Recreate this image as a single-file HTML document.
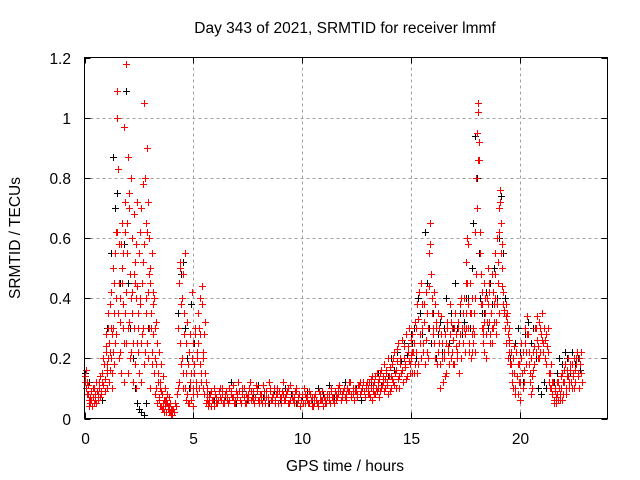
<!DOCTYPE html>
<html><head><meta charset="utf-8">
<style>
html,body{margin:0;padding:0;background:#fff;}
svg{display:block;font-family:"Liberation Sans",sans-serif;}
</style></head>
<body>
<svg id="chart" width="640" height="480" viewBox="0 0 640 480">
<text x="345" y="33" font-size="15.5" text-anchor="middle" fill="#000">Day 343 of 2021, SRMTID for receiver lmmf</text>
<text x="345" y="471" font-size="15.5" text-anchor="middle" fill="#000">GPS time / hours</text>
<text transform="translate(20,238) rotate(-90)" font-size="15.5" text-anchor="middle" fill="#000">SRMTID / TECUs</text>
<g id="grid"></g>
<g id="ticks"></g>
<g id="black"></g>
<g id="red"></g>
<rect x="84.5" y="57.5" width="523" height="361" fill="none" stroke="#000" stroke-width="1"/>
</svg>
<script>
const xTicks = [0,5,10,15,20];
const xTickLabels = ["0","5","10","15","20"];
const yTicks = [0,0.2,0.4,0.6,0.8,1,1.2];
const yTickLabels = ["0","0.2","0.4","0.6","0.8","1","1.2"];
// red series segments: start time, step (hours), values
const redStarts = [0,0.02,1.0,1.025,1.0125,4.0,4.3,4.32,5.0,5.02,5.7,5.75,5.72,13.0,13.025,15.0,15.025,17.5,17.52,18.3,18.32,19.5,19.525];
const redSteps  = [0.05,0.05,0.05,0.05,0.05,0.05,0.04,0.04,0.04,0.04,0.1,0.1,0.1,0.05,0.05,0.05,0.05,0.04,0.04,0.04,0.04,0.05,0.05];
const redValues = [
[.14,.10,.12,.08,.06,.05,.09,.04,.07,.10,.06,.05,.08,.12,.07,.09,.15,.11,.18,.13,.24],
[.12,.16,.08,.11,.04,.07,.06,.10,.05,.08,.12,.09,.06,.10,.14,.08,.12,.20,.09,.22,.16],
[.28,.18,.35,.22,.42,.15,.30,.45,.25,.62,1.09,.83,.58,.40,.65,.30,.97,.72,1.18,.55,.87,.70,.48,.80,.35,.68,.52,.40,.72,.30,.55,.62,.25,.45,.78,1.05,.65,.90,.42,.60,.50,.35,.55,.28,.40,.20,.32,.15,.22,.12,.18,.08,.14,.06,.10,.05,.08,.04,.07,.03,.02],
[.15,.30,.12,.38,.20,.28,.50,.18,.40,1.0,.35,.45,.22,.58,.50,.38,.25,.62,.42,.30,.75,.20,.40,.60,.25,.48,.18,.58,.44,.22,.38,.70,.28,.52,.18,.80,.40,.25,.72,.30,.45,.22,.38,.15,.30,.10,.25,.12,.06,.10,.04,.08,.03,.06,.02,.05,.03,.04,.02,.01,.03],
[.10,.20,.25,.16,.30,.10,.22,.35,.55,.28,.62,.20,.32,.15,.45,.55,.12,.35,.25,.65,.15,.32,.22,.42,.12,.30,.45,.10,.25,.35,.15,.40,.12,.30,.58,.22,.35,.62,.20,.48,.10,.30,.18,.42,.08,.18,.05,.12,.07,.04,.09,.03,.05,.02,.04,.06,.03,.02,.05,.01,.02],
[.01,.03,.02,.05,.04,.08,.10],
[.30,.45,.52,.38,.20,.48,.15,.35,.10,.25,.08,.18,.05,.28,.12,.06,.20,.10],
[.12,.25,.50,.18,.40,.10,.28,.55,.06,.15,.32,.05,.22,.10,.15,.42,.08,.04],
[.25,.18,.30,.12,.22,.35,.10,.28,.40,.15,.44,.20,.08,.32,.12,.06,.10,.05],
[.15,.28,.10,.20,.08,.25,.30,.18,.12,.38,.22,.10,.28,.15,.05,.08,.04,.07],
[.05,.04,.06,.08,.05,.07,.10,.06,.09,.05,.08,.11,.06,.07,.09,.05,.10,.08,.06,.12,.07,.05,.09,.06,.08,.11,.05,.07,.09,.06,.10,.08,.05,.07,.12,.06,.09,.05,.08,.07,.10,.06,.04,.08,.05,.07,.09,.06,.04,.08,.05,.06,.09,.07,.05,.08,.10,.06,.09,.07,.11,.08,.10,.06,.09,.12,.08,.10,.07,.11,.09,.12,.10],
[.08,.06,.10,.05,.09,.06,.05,.08,.06,.10,.07,.05,.09,.12,.06,.08,.05,.07,.10,.06,.09,.11,.06,.08,.05,.07,.09,.12,.06,.08,.05,.10,.07,.09,.06,.08,.05,.11,.06,.09,.05,.08,.06,.10,.07,.05,.08,.04,.07,.05,.09,.06,.04,.06,.08,.05,.07,.05,.08,.10,.06,.09,.07,.10,.12,.08,.06,.09,.11,.08,.10,.07,.12],
[.06,.09,.04,.07,.06,.10,.08,.05,.07,.06,.09,.07,.05,.08,.06,.10,.07,.05,.08,.09,.06,.07,.10,.05,.06,.09,.07,.05,.10,.07,.06,.08,.09,.05,.08,.07,.10,.06,.07,.05,.09,.07,.06,.05,.08,.06,.05,.07,.05,.06,.04,.08,.06,.05,.07,.06,.09,.07,.06,.08,.09,.07,.10,.08,.09,.07,.10,.09,.08,.12,.10,.09,.11],
[.08,.12,.07,.10,.14,.09,.12,.08,.15,.10,.13,.09,.16,.11,.14,.18,.10,.15,.12,.20,.09,.14,.18,.12,.22,.15,.10,.19,.25,.14,.20,.16,.12,.24,.18,.28,.14,.22,.30,.18,.26],
[.10,.08,.13,.06,.11,.08,.14,.10,.09,.12,.07,.15,.10,.12,.09,.13,.16,.11,.08,.14,.17,.10,.13,.20,.11,.16,.23,.13,.10,.18,.15,.26,.12,.20,.17,.13,.24,.19,.15,.21,.22],
[.20,.28,.15,.32,.22,.38,.18,.42,.28,.45,.30,.22,.38,.26,.35,.20,.55,.65,.48,.40,.30,.25,.38,.32,.22,.30,.18,.34,.25,.12,.20,.28,.15,.32,.24,.38,.20,.30,.26,.18,.35,.28,.22,.32,.15,.28,.40,.35,.30,.22,.45],
[.15,.22,.25,.18,.30,.15,.33,.25,.20,.38,.25,.32,.18,.42,.22,.30,.44,.58,.35,.28,.42,.20,.30,.18,.35,.25,.10,.28,.20,.22,.14,.25,.30,.22,.18,.28,.32,.22,.18,.30,.24,.20,.30,.25,.38,.20,.30,.25,.40,.28,.35],
[.52,.60,.38,.30,.25,.45,.35,.22,.30,.28,.40,.62,.80,.95,1.05,.92,.62,.48,.30,.38,.25],
[.30,.45,.58,.22,.35,.20,.28,.40,.25,.35,.22,.48,.70,.86,1.02,.86,.55,.38,.42,.28,.32],
[.30,.45,.35,.28,.40,.50,.32,.42,.25,.35,.48,.30,.38,.55,.40,.32,.60,.45,.70,.76,.65,.50,.58,.42,.36,.30,.38,.35,.28,.22,.30],
[.22,.35,.40,.20,.32,.38,.45,.28,.35,.30,.25,.42,.32,.48,.28,.38,.52,.35,.62,.72,.55,.44,.38,.35,.30,.34,.25,.32,.20,.26,.18],
[.25,.18,.12,.20,.15,.10,.22,.14,.08,.18,.12,.25,.10,.16,.30,.22,.34,.28,.18,.12,.20,.10,.16,.24,.30,.26,.20,.32,.22,.28,.35,.25,.30,.20,.28,.22,.15,.10,.18,.08,.12,.06,.10,.05,.08,.12,.06,.10,.15,.08,.12,.18,.10,.16,.14,.12,.18,.10,.15,.20,.12,.18,.22,.15,.20,.18,.22],
[.18,.22,.15,.10,.24,.08,.14,.18,.12,.06,.20,.15,.22,.12,.25,.18,.28,.22,.15,.08,.14,.22,.18,.30,.22,.34,.24,.20,.30,.26,.22,.30,.26,.18,.24,.30,.12,.15,.10,.12,.05,.09,.07,.12,.06,.10,.08,.14,.06,.12,.16,.08,.14,.20,.10,.16,.12,.18,.14,.10,.16,.20,.14,.10,.18,.15,.12]
];
// black series segments
const blackStarts = [0.01,1.01,4.31,5.71,13.01,15.01,17.61,18.31,19.51];
const blackSteps  = [0.2,0.1,0.1,0.25,0.15,0.1,0.08,0.1,0.12];
const blackValues = [
[.15,.12,.10,.08,.06],
[.30,.25,.55,.87,.70,.75,.45,.65,.58,1.09,.45,.30,.20,.10,.05,.03,.02,.01,.05,.30],
[.35,.48,.52,.30,.20,.10,.38,.25],
[.08,.06,.10,.07,.12,.05,.09,.06,.08,.11,.07,.05,.09,.06,.10,.08,.05,.07,.09,.06,.10,.08,.11,.07,.09,.12,.08,.10,.06],
[.10,.12,.08,.15,.11,.18,.14,.20,.16,.22,.19,.25,.21,.28],
[.25,.30,.20,.40,.35,.28,.62,.45,.30,.25,.35,.20,.28,.32,.22,.30,.40,.25,.35,.30,.45,.30,.35,.28,.32,.40],
[.40,.30,.50,.65,.94,.80,.55,.40,.35],
[.35,.42,.30,.45,.38,.50,.40,.60,.74,.55,.40,.35],
[.20,.15,.25,.30,.22,.12,.28,.32,.25,.30,.20,.10,.08,.12,.10,.15,.18,.12,.15,.20,.18,.22,.20,.15,.22,.18,.20,.16]
];

const NS = "http://www.w3.org/2000/svg";
const X0 = 84.5, X1 = 607.5, Y0 = 418.5, Y1 = 57.5;
const xMin = 0, xMax = 24, yMin = 0, yMax = 1.2;
function xScale(v){ return X0 + (v - xMin) / (xMax - xMin) * (X1 - X0); }
function yScale(v){ return Y0 - (v - yMin) / (yMax - yMin) * (Y0 - Y1); }

const grid = document.getElementById('grid');
const ticks = document.getElementById('ticks');
xTicks.forEach((t, i) => {
  const x = Math.round(xScale(t)) + 0.5;
  if (i > 0) {
    const g = document.createElementNS(NS, 'line');
    g.setAttribute('x1', x); g.setAttribute('x2', x); g.setAttribute('y1', Y0); g.setAttribute('y2', Y1);
    g.setAttribute('stroke', '#a0a0a0'); g.setAttribute('stroke-dasharray', '3,3');
    
    
    grid.appendChild(g);
  }
  const tk = document.createElementNS(NS, 'path');
  tk.setAttribute('d', `M${x},${Y0}v-6M${x},${Y1}v6`);
  tk.setAttribute('stroke', '#000');
  
  
  ticks.appendChild(tk);
  const lb = document.createElementNS(NS, 'text');
  lb.setAttribute('x', x); lb.setAttribute('y', 444);
  lb.setAttribute('font-size', '15.5'); lb.setAttribute('text-anchor', 'middle');
  lb.textContent = xTickLabels[i];
  
  
  ticks.appendChild(lb);
});
yTicks.forEach((t, i) => {
  const y = Math.round(yScale(t)) + 0.5;
  if (i > 0 && i < yTicks.length - 1) {
    const g = document.createElementNS(NS, 'line');
    g.setAttribute('x1', X0); g.setAttribute('x2', X1); g.setAttribute('y1', y); g.setAttribute('y2', y);
    g.setAttribute('stroke', '#a0a0a0'); g.setAttribute('stroke-dasharray', '3,3');
    
    
    grid.appendChild(g);
  }
  const tk = document.createElementNS(NS, 'path');
  tk.setAttribute('d', `M${X0},${y}h6M${X1},${y}h-6`);
  tk.setAttribute('stroke', '#000');
  
  
  ticks.appendChild(tk);
  const lb = document.createElementNS(NS, 'text');
  lb.setAttribute('x', 71); lb.setAttribute('y', y + 5.5);
  lb.setAttribute('font-size', '15.5'); lb.setAttribute('text-anchor', 'end');
  lb.textContent = yTickLabels[i];
  
  
  ticks.appendChild(lb);
});

function drawSeries(gid, starts, steps, values, color){
  const g = document.getElementById(gid);
  values.forEach((arr, s) => {
    let d = '';
    arr.forEach((v, k) => {
      const t = starts[s] + k * steps[s];
      const x = Math.round(xScale(t)) + 0.5, y = Math.round(yScale(v)) + 0.5;
      d += `M${x-3.5},${y}h7M${x},${y-3.5}v7`;
    });
    const p = document.createElementNS(NS, 'path');
    p.setAttribute('d', d);
    p.setAttribute('stroke', color);
    p.setAttribute('stroke-width', '1');
    p.setAttribute('fill', 'none');
    
    
    g.appendChild(p);
  });
}
drawSeries('black', blackStarts, blackSteps, blackValues, '#000');
drawSeries('red', redStarts, redSteps, redValues, '#ff0000');
</script>
</body></html>
